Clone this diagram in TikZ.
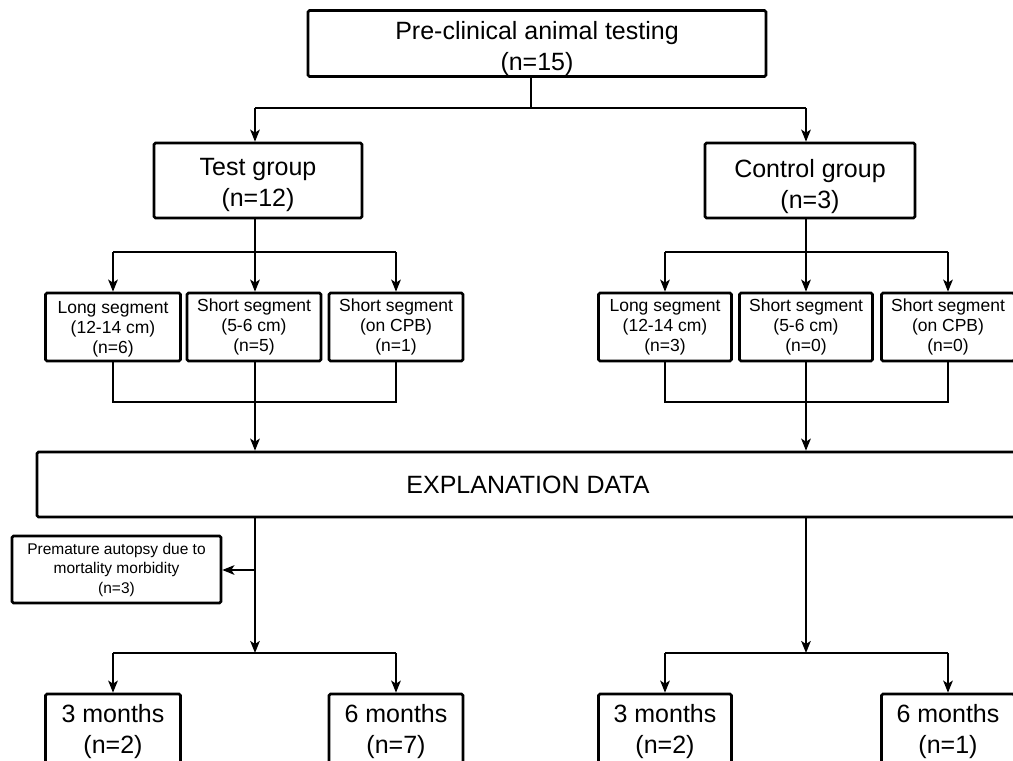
\documentclass[tikz,border=0pt]{standalone}
\usepackage{fontspec}
\setmainfont{Liberation Sans}
\usetikzlibrary{arrows.meta,calc}
\newcommand\tshdown[1]{\rule{0pt}{#1pt}}
\begin{document}
\begin{tikzpicture}[x=1pt,y=-1pt,
  box/.style={draw, line width=2.6pt, rounded corners=1.5pt, inner sep=0pt, align=center, text=black},
  big/.style={font=\fontsize{25}{31}\selectfont},
  mid/.style={font=\fontsize{17.5}{20}\selectfont},
  sml/.style={font=\fontsize{15.5}{19.5}\selectfont},
  conn/.style={line width=2.1pt, line join=miter},
  arr/.style={conn, -{Stealth[length=12pt,width=9.5pt,inset=3pt]}}]
\useasboundingbox (0,0) rectangle (1013,761);
\clip (0,0) rectangle (1013,761);

% boxes
\node[box,big,minimum width=458,minimum height=66] (top) at (537,43.5) {\tshdown{28}Pre-clinical animal testing\\(n=15)};
\node[box,big,minimum width=208,minimum height=75] (test) at (258,180.5) {\tshdown{26}Test group\\(n=12)};
\node[box,big,minimum width=210,minimum height=75] (ctrl) at (810,180.5) {\tshdown{31}Control group\\(n=3)};

\node[box,mid,minimum width=135,minimum height=68] (tl) at (113,327) {\tshdown{17}Long segment\\(12-14 cm)\\(n=6)};
\node[box,mid,minimum width=134,minimum height=68] (ts) at (254,327) {Short segment\\(5-6 cm)\\(n=5)};
\node[box,mid,minimum width=134,minimum height=68] (tc) at (396,327) {Short segment\\(on CPB)\\(n=1)};
\node[box,mid,minimum width=133,minimum height=68] (cl) at (665,327) {Long segment\\(12-14 cm)\\(n=3)};
\node[box,mid,minimum width=133,minimum height=68] (cs) at (806,327) {Short segment\\(5-6 cm)\\(n=0)};
\node[box,mid,minimum width=133,minimum height=68] (cc) at (948,327) {Short segment\\(on CPB)\\(n=0)};

\node[box,big,minimum width=982,minimum height=65] (exp) at (528,484.5) {EXPLANATION DATA};

\node[box,sml,minimum width=209,minimum height=67] (pm) at (116.5,569.5) {Premature autopsy due to\\mortality morbidity\\(n=3)};

\node[box,big,minimum width=135,minimum height=69] (t3) at (113,728.5) {\tshdown{24}3 months\\(n=2)};
\node[box,big,minimum width=134,minimum height=69] (t6) at (396,728.5) {\tshdown{24}6 months\\(n=7)};
\node[box,big,minimum width=133,minimum height=69] (c3) at (665,728.5) {\tshdown{24}3 months\\(n=2)};
\node[box,big,minimum width=133,minimum height=69] (c6) at (948,728.5) {\tshdown{24}6 months\\(n=1)};

% top split
\coordinate (s1) at (531,108);
\coordinate (sT) at (255,108);
\coordinate (sC) at (806,108);
\draw[conn] (s1 |- top.south) -- (s1);
\draw[conn] (sT) -- (sC);
\draw[arr] (sT) -- (sT |- test.north);
\draw[arr] (sC) -- (sC |- ctrl.north);

% test group split
\coordinate (jT) at (255,252);
\draw[conn] (jT |- test.south) -- (jT);
\draw[conn] (tl.center |- jT) -- (tc.center |- jT);
\draw[arr] (tc.center |- jT) -- (tc.north);
\draw[arr] (tl.center |- jT) -- (tl.north);
\draw[arr] (jT) -- (jT |- ts.north);

% control group split
\coordinate (jC) at (806,252);
\draw[conn] (jC |- ctrl.south) -- (jC);
\draw[conn] (cl.center |- jC) -- (cc.center |- jC);
\draw[arr] (cc.center |- jC) -- (cc.north);
\draw[arr] (cl.center |- jC) -- (cl.north);
\draw[arr] (jC) -- (jC |- cs.north);

% merges
\coordinate (mT) at (255,402);
\draw[conn] (tl.south) -- (tl.south |- mT) -- (tc.south |- mT) -- (tc.south);
\draw[conn] (mT |- ts.south) -- (mT);
\draw[arr] (mT) -- (mT |- exp.north);

\coordinate (mC) at (806,402);
\draw[conn] (cl.south) -- (cl.south |- mC) -- (cc.south |- mC) -- (cc.south);
\draw[conn] (mC |- cs.south) -- (mC);
\draw[arr] (mC) -- (mC |- exp.north);

% lower left
\coordinate (bT) at (255,653);
\coordinate (pT) at (255,570);
\draw[arr] (bT |- exp.south) -- (bT);
\draw[arr] (pT) -- (pT -| pm.east);
\draw[conn] (t3.center |- bT) -- (t6.center |- bT);
\draw[arr] (t6.center |- bT) -- (t6.north);
\draw[arr] (t3.center |- bT) -- (t3.north);

% lower right
\coordinate (bC) at (806,653);
\draw[arr] (bC |- exp.south) -- (bC);
\draw[conn] (c3.center |- bC) -- (c6.center |- bC);
\draw[arr] (c6.center |- bC) -- (c6.north);
\draw[arr] (c3.center |- bC) -- (c3.north);
\end{tikzpicture}
\end{document}
